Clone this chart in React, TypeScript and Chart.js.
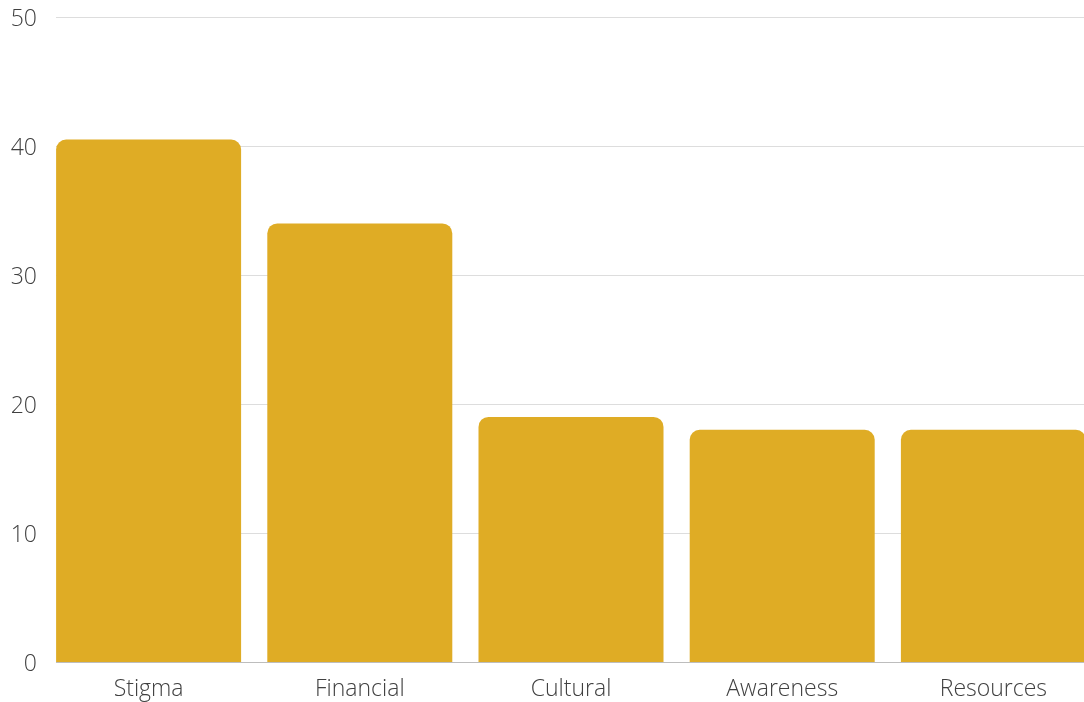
import React, { useEffect, useRef } from "react";
import { Chart, registerables } from "chart.js";

Chart.register(...registerables);

const categories = ["Stigma", "Financial", "Cultural", "Awareness", "Resources"];
const values = [40.5, 34, 19, 18, 18];
const yTicks = [0, 10, 20, 30, 40, 50];

const BAR_COLOR = "#DFAC25";
const TEXT_COLOR = "#404040";
const FONT = "'Open Sans', sans-serif";

const gridPlugin = {
  id: "customGrid",
  beforeDatasetsDraw(chart: any) {
    const { ctx } = chart;
    const y = chart.scales.y;
    const x0 = 56;
    const x1 = 1084;
    ctx.save();
    yTicks.forEach((v) => {
      const py = Math.round(y.getPixelForValue(v)) + 0.5;
      ctx.beginPath();
      ctx.strokeStyle = v === 0 ? "#bdbdbd" : "#dddddd";
      ctx.lineWidth = 1;
      ctx.moveTo(x0, py);
      ctx.lineTo(x1, py);
      ctx.stroke();
    });
    ctx.restore();
  },
  afterDatasetsDraw(chart: any) {
    const { ctx } = chart;
    const y = chart.scales.y;
    const py = Math.round(y.getPixelForValue(0)) + 0.5;
    ctx.save();
    ctx.beginPath();
    ctx.strokeStyle = "#bdbdbd";
    ctx.lineWidth = 1;
    ctx.moveTo(56, py);
    ctx.lineTo(1084, py);
    ctx.stroke();
    ctx.restore();
  },
};

export default function App() {
  const ref = useRef<HTMLCanvasElement | null>(null);

  useEffect(() => {
    if (!ref.current) return;
    const chart = new Chart(ref.current, {
      type: "bar",
      data: {
        labels: categories,
        datasets: [
          {
            data: values,
            backgroundColor: BAR_COLOR,
            borderRadius: { topLeft: 10, topRight: 10, bottomLeft: 0, bottomRight: 0 },
            borderSkipped: "bottom",
            barPercentage: 1,
            categoryPercentage: 185 / 211.2,
          },
        ],
      },
      options: {
        responsive: false,
        animation: false,
        layout: { padding: { top: 17, right: 1, bottom: 0, left: 0 } },
        plugins: {
          legend: { display: false },
          tooltip: { enabled: false },
        },
        scales: {
          x: {
            grid: { display: false, drawTicks: false },
            border: { display: false },
            ticks: {
              color: TEXT_COLOR,
              font: { family: FONT, size: 23, weight: "300" as any },
              padding: 14,
              maxRotation: 0,
            },
            afterFit(scale: any) {
              scale.height = 40;
              scale.paddingLeft = 0;
              scale.paddingRight = 0;
            },
          },
          y: {
            min: 0,
            max: 50,
            grid: { display: false, drawTicks: false },
            border: { display: false },
            ticks: {
              stepSize: 10,
              color: TEXT_COLOR,
              font: { family: FONT, size: 23, weight: "300" as any },
              padding: 6,
              labelOffset: 2,
            },
            afterFit(scale: any) {
              scale.width = 43;
              scale.paddingTop = 0;
              scale.paddingBottom = 0;
            },
          },
        },
      },
      plugins: [gridPlugin],
    });
    return () => chart.destroy();
  }, []);

  return (
    <div
      style={{
        position: "fixed",
        left: 0,
        top: 0,
        width: 1084,
        height: 702,
        overflow: "hidden",
        background: "#ffffff",
      }}
    >
      <canvas ref={ref} width={1100} height={702} style={{ display: "block" }} />
    </div>
  );
}
